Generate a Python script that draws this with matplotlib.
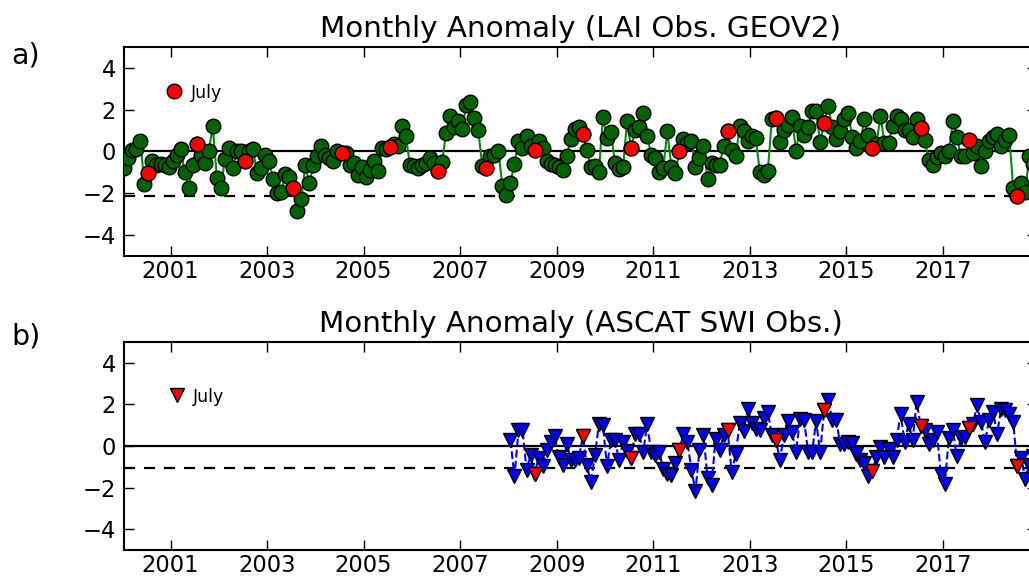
import matplotlib
matplotlib.use("Agg")
import matplotlib.pyplot as plt
import numpy as np

# monthly anomalies, Jan 2000 - Dec 2018
lai_start = 2000
lai_anom = [
    -0.80, -0.32, 0.08, 0.10, 0.48, -1.57, -1.03, -0.48, -0.64, -0.60, -0.64, -0.75,
    -0.48, -0.16, 0.13, -1.00, -1.73, -0.64, 0.35, -0.16, -0.56, 0.03, 1.20, -1.25,
    -1.77, -0.35, 0.16, -0.80, 0.03, 0.03, -0.48, 0.03, 0.13, -1.04, -0.80, -0.16,
    -0.48, -1.32, -2.00, -1.96, -1.09, -1.20, -1.73, -2.86, -2.28, -0.67, -1.53, -0.64,
    -0.24, 0.27, -0.19, -0.29, -0.45, 0.00, -0.08, -0.08, -0.64, -0.53, -1.12, -0.75,
    -1.20, -0.88, -0.48, -0.92, 0.16, 0.10, 0.21, 0.37, 0.27, 1.24, 0.76, -0.64,
    -0.69, -0.77, -0.64, -0.56, -0.32, -0.56, -0.93, -0.50, 0.88, 1.72, 1.17, 1.45,
    1.08, 2.20, 2.36, 1.60, 1.01, -0.69, -0.80, -0.24, -0.16, 0.03, -1.65, -2.09,
    -1.49, -0.59, 0.48, 0.16, 0.72, 0.24, 0.08, 0.48, 0.16, -0.48, -0.59, -0.64,
    -0.75, -0.88, -0.21, 0.59, 1.08, 1.17, 0.85, 0.05, -0.72, -0.69, -0.96, 1.65,
    0.64, 0.92, -0.56, -0.85, -0.75, 1.45, 0.16, 1.01, 1.17, 1.82, 0.72, -0.16,
    -0.32, -0.96, -0.80, 0.96, -0.72, -1.01, 0.00, 0.59, 0.40, 0.48, -0.75, -0.32,
    0.27, -1.33, -0.56, -0.64, -0.64, 0.27, 0.96, 0.08, -0.21, 1.20, 0.96, 0.48,
    0.72, 0.64, -0.96, -1.12, -0.92, 1.56, 1.61, 0.43, 1.01, 1.29, 1.65, 0.00,
    1.24, 0.80, 1.17, 1.93, 1.93, 0.43, 1.37, 2.17, 1.17, 0.59, 0.96, 1.53,
    1.82, 0.67, 0.16, 0.48, 1.53, 0.80, 0.16, 0.37, 1.69, 0.40, 0.40, 1.24,
    1.72, 1.56, 1.04, 1.01, 0.69, 1.56, 1.12, 0.53, -0.43, -0.64, -0.27, -0.05,
    -0.24, 0.00, 1.45, 0.69, -0.24, -0.24, 0.53, -0.08, 0.27, -0.69, 0.00, 0.48,
    0.69, 0.85, 0.24, 0.56, 0.80, -1.77, -2.14, -1.49, -1.93, -0.20, -0.60, -1.10,
]

# ASCAT SWI monthly anomalies, Jan 2008 - Dec 2018
swi_start = 2008
swi_anom = [
    0.27, -1.46, 0.75, 0.78, -1.14, -0.45, -1.33, -0.56, -0.98, -0.21, 0.19, 0.46,
    -0.53, -0.93, 0.11, -0.66, -0.66, -0.56, 0.46, -0.93, -1.73, -0.45, 1.07, 0.99,
    -0.98, 0.27, 0.27, -0.69, 0.19, -0.24, -0.56, 0.59, 0.59, -0.29, 1.04, -0.29,
    -0.45, -0.29, -1.09, -1.33, -1.41, -0.82, -0.21, 0.59, 0.19, -1.14, -2.16, -0.18,
    0.51, -1.52, -1.89, 0.35, -0.21, 0.51, 0.75, -1.25, -0.40, 1.10, 0.72, 1.79,
    1.10, 0.83, 0.75, 1.36, 1.63, 0.51, 0.27, -0.66, 0.51, 1.20, 0.67, -0.29,
    1.31, 1.27, -0.29, -0.29, 1.20, -0.29, 1.71, 2.23, 1.27, 1.23, 0.08, 0.11,
    0.19, 0.14, -0.40, -0.69, -0.82, -1.46, -1.20, -0.53, -0.05, -0.53, -0.13, -0.53,
    0.27, 1.55, 0.19, 1.07, 0.30, 2.12, 0.95, 0.75, 0.11, 0.30, 0.67, -1.33,
    -1.81, 0.40, 0.75, -0.50, 0.40, 0.43, 0.88, 1.07, 1.96, 1.15, 0.19, 1.27,
    1.63, 0.59, 1.79, 1.71, 1.55, 1.15, -0.98, -0.56, -1.57, -0.90, -0.50, -0.30,
]

lai_thresh = -2.13
swi_thresh = -1.06
year_ticks = list(range(2001, 2019, 2))


def month_axis(start, n):
    k = np.arange(n)
    return start + (k + 0.5) / 12.0, (k % 12) == 6


plt.rcParams['font.family'] = 'DejaVu Sans'
plt.rcParams['xtick.direction'] = 'in'
plt.rcParams['ytick.direction'] = 'in'
plt.rcParams['xtick.top'] = True
plt.rcParams['ytick.right'] = True

fig = plt.figure(figsize=(10.29, 5.79), dpi=100)
fig.patch.set_facecolor('white')

xlo = 2000 + 0.5 / 12
xhi = 2018 + 11.5 / 12


def style_axes(ax, title, thresh):
    ax.axhline(0, color='black', lw=1.6, zorder=1)
    ax.axhline(thresh, color='black', lw=1.6, dashes=(5, 4), zorder=1)
    ax.set_xlim(xlo, xhi)
    ax.set_ylim(-5, 5)
    ax.set_yticks([-4, -2, 0, 2, 4])
    ax.set_xticks(year_ticks)
    ax.set_xticklabels([str(y) for y in year_ticks])
    ax.tick_params(labelsize=16.3, length=7, width=1)
    ax.tick_params(axis='x', pad=3)
    ax.tick_params(axis='y', pad=6)
    for s in ax.spines.values():
        s.set_linewidth(1.5)
    ax.set_title(title, fontsize=21.2, pad=7)


def july_legend(ax, x0, y0):
    ax.legend(loc='upper left', bbox_to_anchor=(x0, y0), frameon=False, numpoints=1,
              fontsize=12.5, handlelength=1.0, handletextpad=0.45,
              borderpad=0, borderaxespad=0)


# a) LAI
ax1 = fig.add_axes([0.1208, 0.5579, 0.8873, 0.361])
x, jul = month_axis(lai_start, len(lai_anom))
y = np.array(lai_anom)
ax1.plot(x, y, color='#009000', lw=1.5, zorder=2)
ax1.plot(x, y, 'o', ms=10.5, mfc='#006400', mec='black', mew=1, zorder=3)
ax1.plot(x[jul], y[jul], 'o', ms=10.5, mfc='red', mec='black', mew=1, zorder=4, label='July')
style_axes(ax1, 'Monthly Anomaly (LAI Obs. GEOV2)', lai_thresh)
july_legend(ax1, 0.045, 0.825)

# b) ASCAT SWI
ax2 = fig.add_axes([0.1208, 0.0501, 0.8873, 0.3592])
x2, jul2 = month_axis(swi_start, len(swi_anom))
y2 = np.array(swi_anom)
ax2.plot(x2, y2, color='blue', lw=1.5, ls='--', zorder=2)
ax2.plot(x2, y2, 'v', ms=10.5, mfc='blue', mec='black', mew=1, zorder=3)
ax2.plot(x2[jul2], y2[jul2], 'v', ms=10.5, mfc='red', mec='black', mew=1, zorder=4, label='July')
style_axes(ax2, 'Monthly Anomaly (ASCAT SWI Obs.)', swi_thresh)
july_legend(ax2, 0.048, 0.781)

fig.text(0.011, 0.905, 'a)', fontsize=20.5, va='center', ha='left')
fig.text(0.011, 0.418, 'b)', fontsize=20.5, va='center', ha='left')

fig.savefig('out.png', dpi=100, facecolor='white')
